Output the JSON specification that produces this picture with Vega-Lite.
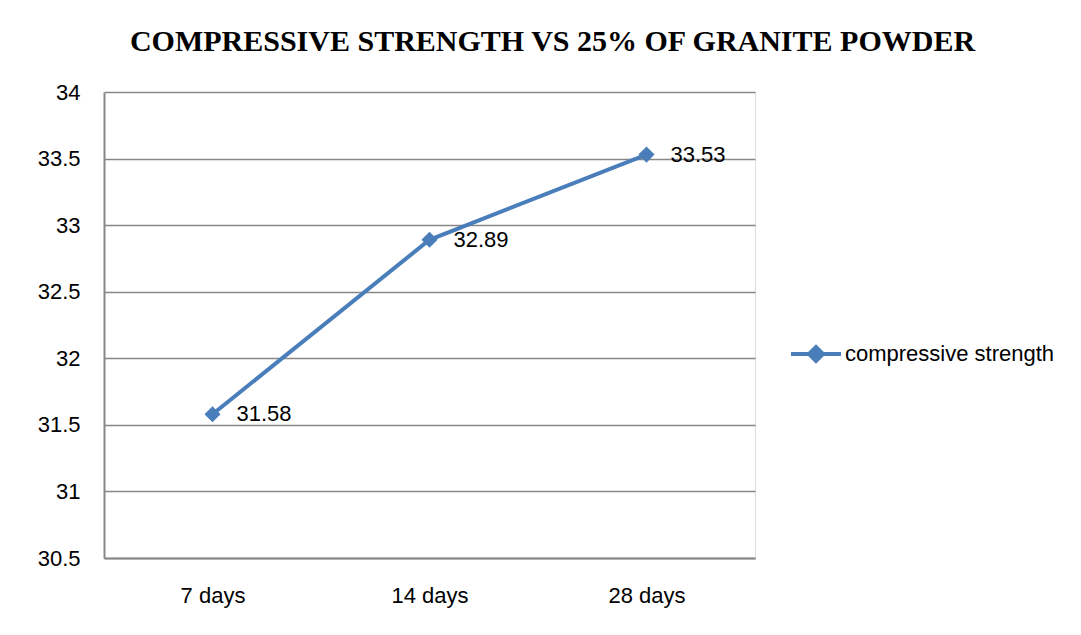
{
  "$schema": "https://vega.github.io/schema/vega-lite/v6.json",
  "width": 651,
  "height": 466,
  "autosize": {"type": "none"},
  "padding": {"left": 104, "top": 92, "right": 326, "bottom": 77},
  "background": "white",
  "title": {
    "text": "COMPRESSIVE STRENGTH VS 25% OF GRANITE POWDER",
    "font": "Liberation Serif",
    "fontSize": 30,
    "fontWeight": "bold",
    "color": "black",
    "anchor": "middle",
    "dx": 123,
    "offset": 24
  },
  "data": {
    "values": [
      {"age": "7 days", "strength": 31.58, "series": "compressive strength"},
      {"age": "14 days", "strength": 32.89, "series": "compressive strength"},
      {"age": "28 days", "strength": 33.53, "series": "compressive strength"}
    ]
  },
  "encoding": {
    "x": {
      "field": "age",
      "type": "ordinal",
      "sort": ["7 days", "14 days", "28 days"],
      "scale": {"type": "point", "padding": 0.5},
      "axis": {
        "title": null,
        "labelAngle": 0,
        "ticks": false,
        "labelPadding": 27,
        "labelFont": "Liberation Sans",
        "labelFontSize": 22,
        "labelColor": "black",
        "domainColor": "#878787",
        "domainWidth": 2,
        "grid": false
      }
    },
    "y": {
      "field": "strength",
      "type": "quantitative",
      "scale": {"domain": [30.5, 34], "nice": false, "zero": false},
      "axis": {
        "title": null,
        "values": [30.5, 31, 31.5, 32, 32.5, 33, 33.5, 34],
        "format": "~g",
        "ticks": false,
        "labelPadding": 24,
        "labelFont": "Liberation Sans",
        "labelFontSize": 22,
        "labelColor": "black",
        "domainColor": "#878787",
        "domainWidth": 2,
        "grid": true,
        "gridColor": "#878787",
        "gridWidth": 1.5
      }
    }
  },
  "layer": [
    {
      "mark": {"type": "line", "strokeWidth": 4, "point": {"shape": "diamond", "size": 260, "filled": true, "color": "#4A7EBB", "opacity": 1}},
      "encoding": {
        "color": {
          "field": "series",
          "type": "nominal",
          "scale": {"range": ["#4A7EBB"]},
          "legend": {
            "orient": "none",
            "legendX": 685,
            "legendY": 235,
            "title": null,
            "labelFont": "Liberation Sans",
            "labelFontSize": 22,
            "labelColor": "black",
            "labelLimit": 0,
            "symbolType": "M-1,0L1,0M-0.28,0L0,-0.28L0.28,0L0,0.28Z",
            "symbolSize": 2500,
            "symbolStrokeWidth": 4,
            "symbolFillColor": "#4A7EBB",
            "symbolStrokeColor": "#4A7EBB",
            "labelOffset": 2
          }
        }
      }
    },
    {
      "mark": {"type": "text", "align": "left", "baseline": "middle", "dx": 24, "font": "Liberation Sans", "fontSize": 22, "color": "black"},
      "encoding": {
        "text": {"field": "strength", "type": "quantitative", "format": ".2f"}
      }
    }
  ]
}
